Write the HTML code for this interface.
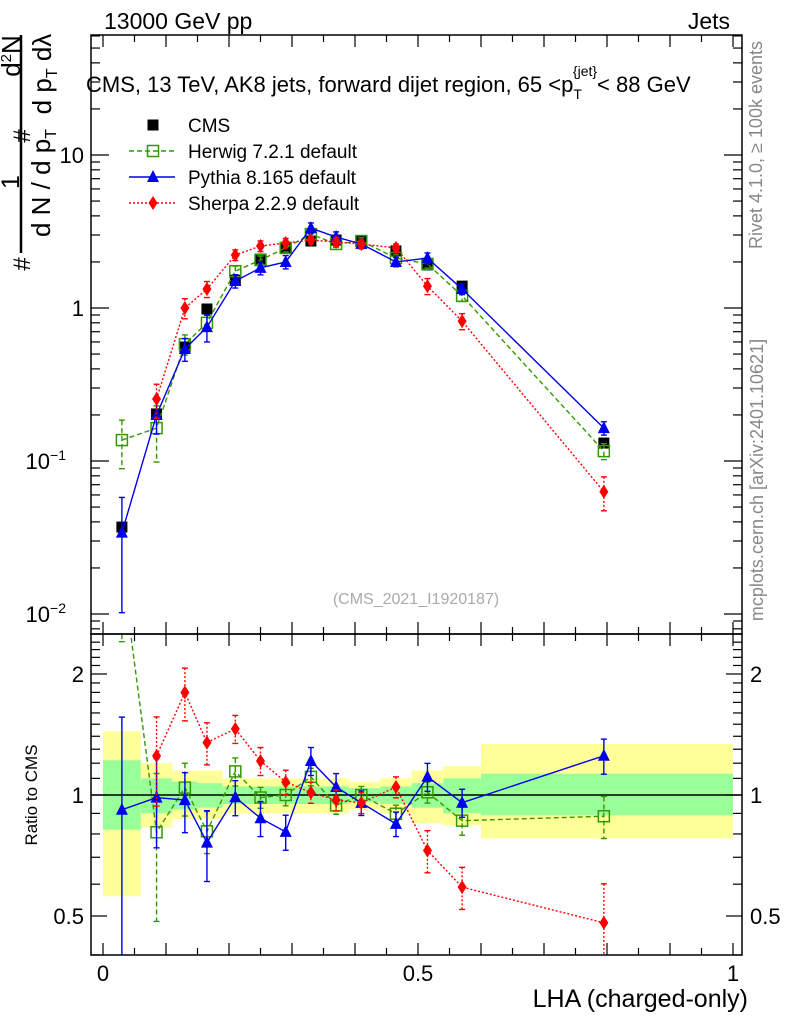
<!DOCTYPE html>
<html><head><meta charset="utf-8"><style>
html,body{margin:0;padding:0;background:#fff;}
svg{display:block;font-family:"Liberation Sans",sans-serif;}
</style></head><body>
<svg id="chart" width="786" height="1024" viewBox="0 0 786 1024">
<g id="bands"></g><g id="grid"></g><g id="series"></g>
<rect x="91" y="35" width="651" height="599" fill="none" stroke="#000" stroke-width="1.5"/>
<rect x="91" y="634" width="651" height="321" fill="none" stroke="#000" stroke-width="1.5"/>
<text x="104" y="29" font-size="23">13000 GeV pp</text>
<text x="730" y="29" font-size="23" text-anchor="end">Jets</text>
<text x="86" y="92" font-size="22">CMS, 13 TeV, AK8 jets, forward dijet region, 65 &lt;p<tspan font-size="14" dy="7">T</tspan><tspan font-size="14" dy="-23" dx="-9">{jet}</tspan><tspan dy="16">&lt; 88 GeV</tspan></text>
<g>
<line x1="21" y1="35" x2="21" y2="253" stroke="#000" stroke-width="2.5"/>
<text transform="translate(30,264) rotate(-90)" font-size="24" text-anchor="middle">#</text>
<text transform="translate(19,182) rotate(-90)" font-size="25" text-anchor="middle">1</text>
<text transform="translate(50,183) rotate(-90)" font-size="26" text-anchor="middle">d N / d p<tspan font-size="16" dy="6">T</tspan></text>
<text transform="translate(30,136) rotate(-90)" font-size="24" text-anchor="middle">#</text>
<text transform="translate(20,56) rotate(-90)" font-size="26" text-anchor="middle">d<tspan font-size="15" dy="-9">2</tspan><tspan dy="9">N</tspan></text>
<text transform="translate(51,74) rotate(-90)" font-size="26" text-anchor="middle">d p<tspan font-size="16" dy="6">T</tspan><tspan dy="-6">  d</tspan>λ</text>
</g>
<text transform="translate(762,145) rotate(-90)" font-size="18" fill="#888" text-anchor="middle">Rivet 4.1.0, ≥ 100k events</text>
<text transform="translate(763,480) rotate(-90)" font-size="18" fill="#888" text-anchor="middle">mcplots.cern.ch [arXiv:2401.10621]</text>
<text x="416" y="604" font-size="16" fill="#aaa" text-anchor="middle">(CMS_2021_I1920187)</text>
<text transform="translate(37,795) rotate(-90)" font-size="17" text-anchor="middle">Ratio to CMS</text>
<text x="748" y="1007" font-size="25" text-anchor="end">LHA (charged-only)</text>
<g id="legend"></g>
</svg>
<script>
const xs=[0.03,0.085,0.13,0.165,0.21,0.25,0.29,0.33,0.37,0.41,0.465,0.515,0.57,0.795];
const cms=[0.037,0.203,0.556,0.985,1.52,2.09,2.47,2.74,2.78,2.74,2.36,1.91,1.39,0.131];
const herwig=[0.137,0.164,0.58,0.80,1.74,2.06,2.47,3.04,2.62,2.74,2.12,1.94,1.20,0.116];
const pythia=[0.034,0.20,0.54,0.75,1.50,1.83,2.0,3.33,2.91,2.62,2.0,2.12,1.33,0.164];
const sherpa=[null,0.254,1.0,1.33,2.22,2.54,2.66,2.78,2.70,2.62,2.47,1.39,0.82,0.063];
const herwigErr=[0.35,0.4,0.15,0.12,0.08,0.06,0.06,0.05,0.05,0.05,0.05,0.06,0.08,0.12];
const pythiaErr=[0.7,0.25,0.17,0.2,0.1,0.1,0.1,0.08,0.08,0.07,0.07,0.08,0.08,0.1];
const sherpaErr=[0,0.25,0.15,0.12,0.08,0.08,0.07,0.06,0.06,0.06,0.06,0.12,0.12,0.25];
const binEdges=[0,0.06,0.11,0.15,0.19,0.23,0.27,0.31,0.35,0.39,0.44,0.49,0.54,0.6,1.0];
const yelHi=[1.44,1.2,1.15,1.15,1.1,1.1,1.1,1.1,1.1,1.08,1.1,1.15,1.18,1.34];
const yelLo=[0.56,0.83,0.87,0.87,0.9,0.9,0.9,0.9,0.9,0.92,0.9,0.85,0.84,0.78];
const grnHi=[1.22,1.1,1.08,1.07,1.05,1.05,1.05,1.05,1.05,1.04,1.05,1.07,1.1,1.13];
const grnLo=[0.82,0.9,0.92,0.93,0.95,0.95,0.95,0.95,0.95,0.96,0.95,0.93,0.9,0.89];
const xTicks=["0","0.5","1"];
const NS="http://www.w3.org/2000/svg";
const X=v=>103+v*630;
const Y=v=>308-Math.log10(v)*153;
const R=v=>795-Math.log2(v)*121;
function mk(tag,attrs,parent){const e=document.createElementNS(NS,tag);for(const k in attrs)e.setAttribute(k,attrs[k]);parent.appendChild(e);return e;}
const bands=document.getElementById('bands'),grid=document.getElementById('grid'),ser=document.getElementById('series'),leg=document.getElementById('legend');
const clipTop=mk('clipPath',{id:'ctop'},bands);mk('rect',{x:91,y:35,width:651,height:599},clipTop);
const clipBot=mk('clipPath',{id:'cbot'},bands);mk('rect',{x:91,y:634,width:651,height:321},clipBot);
for(let i=0;i<binEdges.length-1;i++){
 const x1=X(binEdges[i]),x2=X(binEdges[i+1]);
 const yb=mk('rect',{x:x1,y:R(yelHi[i]),width:x2-x1,height:R(yelLo[i])-R(yelHi[i]),fill:'#ffff99'},bands);
 
 
 const gb=mk('rect',{x:x1,y:R(grnHi[i]),width:x2-x1,height:R(grnLo[i])-R(grnHi[i]),fill:'#99ff99'},bands);
 
 
}
mk('line',{x1:91,x2:742,y1:R(1),y2:R(1),stroke:'#000','stroke-width':1.5},grid);
for(let k=0;k<=20;k++){const v=k*0.05,x=X(v),L=(k%2==0)?12:7;
 [[634,634-L],[634,634+L],[955,955-L],[35,35+L]].forEach(p=>mk('line',{x1:x,x2:x,y1:p[0],y2:p[1],stroke:'#000','stroke-width':1.2},grid));}
xTicks.forEach((t,i)=>{const tl=mk('text',{x:X(i*0.5),y:981,'font-size':22,'text-anchor':'middle'},grid);tl.textContent=t;
 
 });
for(let d=-3;d<=1;d++)for(let m=1;m<10;m++){const v=m*Math.pow(10,d),y=Y(v);if(y<35||y>634)continue;const L=m==1?18:9;
 mk('line',{x1:91,x2:91+L,y1:y,y2:y,stroke:'#000','stroke-width':1.2},grid);mk('line',{x1:742,x2:742-L,y1:y,y2:y,stroke:'#000','stroke-width':1.2},grid);}
[[10,'10'],[1,'1'],[0.1,'10'],[0.01,'10']].forEach((p,i)=>{const t=mk('text',{x:i<2?84:66,y:Y(p[0])+8,'font-size':22,'text-anchor':'end'},grid);t.textContent=p[1];
 if(i>=2){const s=mk('tspan',{'font-size':14,dy:-9},t);s.textContent=i==2?'−1':'−2';}
 
 });
for(let v=0.4;v<=2.5;v+=0.1){const y=R(v);if(y<634||y>955)continue;const maj=Math.abs(v-0.5)<1e-6||Math.abs(v-1)<1e-6||Math.abs(v-2)<1e-6;const L=maj?16:9;
 mk('line',{x1:91,x2:91+L,y1:y,y2:y,stroke:'#000','stroke-width':1.2},grid);mk('line',{x1:742,x2:742-L,y1:y,y2:y,stroke:'#000','stroke-width':1.2},grid);}
[[2,'2'],[1,'1'],[0.5,'0.5']].forEach(p=>{[[84,'end'],[750,'start']].forEach(q=>{const t=mk('text',{x:q[0],y:R(p[0])+8,'font-size':22,'text-anchor':q[1]},grid);t.textContent=p[1];
 
 });});
function marker(g,type,x,y,color){
 if(type=='sq')mk('rect',{x:x-5.5,y:y-5.5,width:11,height:11,fill:'#000'},g);
 if(type=='osq')mk('rect',{x:x-5.5,y:y-5.5,width:11,height:11,fill:'none',stroke:color,'stroke-width':1.5},g);
 if(type=='tri')mk('polygon',{points:`${x},${y-7} ${x-6},${y+5} ${x+6},${y+5}`,fill:color},g);
 if(type=='dia')mk('polygon',{points:`${x},${y-7} ${x-4.5},${y} ${x},${y+7} ${x+4.5},${y}`,fill:color},g);
}
function drawSeries(name,vals,errs,type,color,dash,ratio){
 const g=mk('g',{'clip-path':ratio?'url(#cbot)':'url(#ctop)'},ser);
 
 
 const fy=(i)=>ratio?R(vals[i]/cms[i]):Y(vals[i]);
 let pts=[];xs.forEach((x,i)=>{if(vals[i]!=null)pts.push(X(x)+','+fy(i));});
 if(color!='#000'){const pl=mk('polyline',{points:pts.join(' '),fill:'none',stroke:color,'stroke-width':1.4},g);if(dash)pl.setAttribute('stroke-dasharray',dash);}
 xs.forEach((x,i)=>{if(vals[i]==null)return;const v=ratio?vals[i]/cms[i]:vals[i];const e=errs[i];const f=ratio?R:Y;
  const y1=f(v*(1+e)),y2=f(Math.max(v*(1-e),1e-4));const px=X(x);
  const eb=mk('line',{x1:px,x2:px,y1:y1,y2:y2,stroke:color,'stroke-width':1.4},g);if(dash)eb.setAttribute('stroke-dasharray',dash);
  mk('line',{x1:px-3,x2:px+3,y1:y1,y2:y1,stroke:color,'stroke-width':1.4},g);mk('line',{x1:px-3,x2:px+3,y1:y2,y2:y2,stroke:color,'stroke-width':1.4},g);
  marker(g,type,px,ratio?R(v):Y(v),color);});
}
const cmsErr=[0.05,0.03,0.03,0.03,0.02,0.02,0.02,0.02,0.02,0.02,0.02,0.02,0.03,0.04];
drawSeries('cms',cms,cmsErr,'sq','#000',null,false);
drawSeries('herwig',herwig,herwigErr,'osq','#339900','5,3',false);
drawSeries('pythia',pythia,pythiaErr,'tri','#0000ee',null,false);
drawSeries('sherpa',sherpa,sherpaErr,'dia','#ff0000','2,2',false);
drawSeries('herwig',herwig,herwigErr,'osq','#339900','5,3',true);
drawSeries('pythia',pythia,pythiaErr,'tri','#0000ee',null,true);
drawSeries('sherpa',sherpa,sherpaErr,'dia','#ff0000','2,2',true);
const legItems=[['CMS','sq','#000',null],['Herwig 7.2.1 default','osq','#339900','5,3'],['Pythia 8.165 default','tri','#0000ee',null],['Sherpa 2.2.9 default','dia','#ff0000','2,2']];
legItems.forEach((it,i)=>{const y=125+i*26;const g=mk('g',{},leg);
 
 
 if(i>0){const l=mk('line',{x1:129,x2:175,y1:y,y2:y,stroke:it[2],'stroke-width':1.4},g);if(it[3])l.setAttribute('stroke-dasharray',it[3]);}
 marker(g,it[1],153,y,it[2]);
 const t=mk('text',{x:188,y:y+7,'font-size':19},g);t.textContent=it[0];});
</script>
</body></html>
